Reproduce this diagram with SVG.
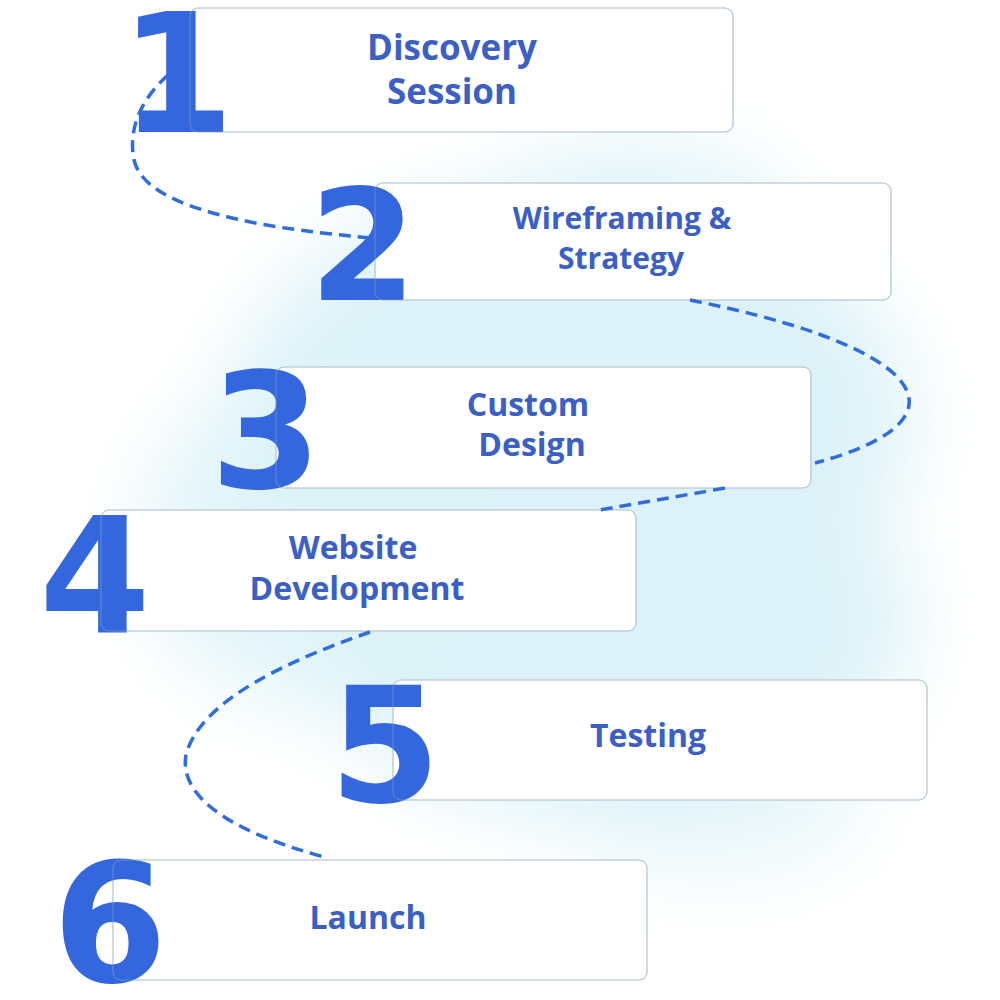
<svg xmlns="http://www.w3.org/2000/svg" width="1000" height="1000" viewBox="0 0 1000 1000">
<defs>
<filter id="blur" x="-30%" y="-30%" width="160%" height="160%"><feGaussianBlur stdDeviation="40"/></filter>
<style>
.box{fill:#ffffff;stroke:#c3d2da;stroke-width:1.2}
.edge{fill:none;stroke:#9fb6c4;stroke-width:1;opacity:0.45}
.num{font-family:"DejaVu Sans",sans-serif;font-weight:bold;fill:#3467dd;text-anchor:middle}
.lbl{font-family:"Open Sans","Liberation Sans",sans-serif;font-weight:700;fill:#3c5fc6;text-anchor:middle}
.dash{fill:none;stroke:#2f6ddb;stroke-width:3.5;stroke-dasharray:12 7}
</style>
</defs>
<rect width="1000" height="1000" fill="#ffffff"/>
<g id="background" filter="url(#blur)" fill="#dcf2f8">
<ellipse cx="570" cy="420" rx="340" ry="230"/>
<ellipse cx="610" cy="620" rx="300" ry="200"/>
<ellipse cx="330" cy="540" rx="190" ry="170" opacity="0.8"/>
<ellipse cx="640" cy="220" rx="150" ry="80" opacity="0.7"/>
<ellipse cx="720" cy="800" rx="150" ry="80" opacity="0.5"/>
</g>
<g id="node1">
<rect class="box" x="190" y="8" width="543" height="124" rx="8"/>
<text class="num" x="177" y="132" font-size="165">1</text>
<rect class="edge" x="190" y="8" width="543" height="124" rx="8"/>
<text class="lbl" x="452" y="60" font-size="35">Discovery</text>
<text class="lbl" x="452" y="104" font-size="35">Session</text>
</g>
<g id="node2">
<rect class="box" x="375" y="183" width="516" height="117" rx="8"/>
<text class="num" x="363" y="300" font-size="155">2</text>
<rect class="edge" x="375" y="183" width="516" height="117" rx="8"/>
<text class="lbl" x="622" y="229" font-size="30">Wireframing &amp;</text>
<text class="lbl" x="621" y="269" font-size="30">Strategy</text>
</g>
<g id="node3">
<rect class="box" x="276" y="367" width="535" height="121" rx="8"/>
<text class="num" x="266" y="488" font-size="160">3</text>
<rect class="edge" x="276" y="367" width="535" height="121" rx="8"/>
<text class="lbl" x="528" y="416" font-size="32">Custom</text>
<text class="lbl" x="532" y="456" font-size="32">Design</text>
</g>
<g id="node4">
<rect class="box" x="101" y="510" width="535" height="121" rx="8"/>
<text class="num" x="95" y="632" font-size="160">4</text>
<rect class="edge" x="101" y="510" width="535" height="121" rx="8"/>
<text class="lbl" x="353" y="559" font-size="32">Website</text>
<text class="lbl" x="357" y="600" font-size="32">Development</text>
</g>
<g id="node5">
<rect class="box" x="393" y="680" width="534" height="120" rx="8"/>
<text class="num" x="385" y="802" font-size="160">5</text>
<rect class="edge" x="393" y="680" width="534" height="120" rx="8"/>
<text class="lbl" x="648" y="747" font-size="32">Testing</text>
</g>
<g id="node6">
<rect class="box" x="113" y="860" width="534" height="120" rx="8"/>
<text class="num" x="110" y="982" font-size="165">6</text>
<rect class="edge" x="113" y="860" width="534" height="120" rx="8"/>
<text class="lbl" x="368" y="929" font-size="32">Launch</text>
</g>
<g id="connectors">
<path class="dash" d="M168,75 C140,100 128,130 134,160 C142,195 200,212 260,224 C300,231 340,235 370,238"/>
<path class="dash" d="M690,300 C780,318 870,345 900,380 C925,410 900,440 815,463"/>
<path class="dash" d="M725,488 C680,496 640,503 600,510"/>
<path class="dash" d="M370,632 C290,660 200,700 186,755 C178,800 240,835 328,858"/>
</g>
</svg>
